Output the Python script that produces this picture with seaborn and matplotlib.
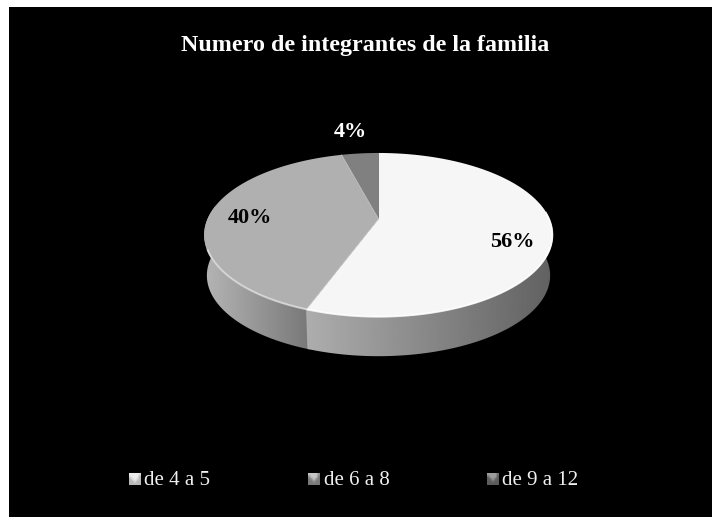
import numpy as np
import matplotlib
matplotlib.use("Agg")
import matplotlib.pyplot as plt
from matplotlib.patches import Polygon, Rectangle
import seaborn as sns

title = "Numero de integrantes de la familia"
categories = ["de 4 a 5", "de 6 a 8", "de 9 a 12"]
values = [56, 40, 4]

sns.set_theme(style="white")
plt.rcParams["font.family"] = ["Liberation Serif", "DejaVu Serif"]
top_colors = sns.color_palette(["#f6f6f6", "#b0b0b0", "#808080"])

fig = plt.figure(figsize=(7.12, 5.17), dpi=100, facecolor="white")
ax = fig.add_axes([0, 0, 1, 1])
ax.set_xlim(0, 712)
ax.set_ylim(517, 0)
ax.axis("off")
ax.add_patch(Rectangle((9, 7), 703, 510, fc="black", ec="none", zorder=0))

CX, CY, RX, RY, K = 378.5, 219.0, 171.0, 78.9, 0.195
DEPTH = 41.0


def project(theta, r=1.0, drop=0.0):
    """Tilted-disc perspective: theta runs clockwise from the far point."""
    theta = theta - 0.024 * np.sqrt(np.clip(np.sin(theta / 2), 0, 1))
    u, v = r * np.sin(theta), r * np.cos(theta)
    w = 1 + K * v
    return CX + RX * u / w, CY - RY * v / w + drop


def gradient(poly, c0, c1, z, x0, x1):
    patch = Polygon(poly, closed=True, fc="none", ec="none", zorder=z)
    ax.add_patch(patch)
    g = np.linspace(c0, c1, 256)[None, :]
    im = ax.imshow(g, cmap="gray", vmin=0, vmax=1, extent=[x0, x1, 400, 140],
                   aspect="auto", zorder=z, interpolation="bilinear")
    im.set_clip_path(patch)


edges = np.cumsum([0] + values) / sum(values) * 2 * np.pi

# side walls (front half only is visible); the left wall is drawn first and
# runs slightly under the front wall so no background shows at the seam
wall_shades = [(0.71, 0.47), (0.68, 0.38)]
wall_spans = [(edges[1] - 0.02, np.pi * 1.56), (np.pi * 0.44, edges[1])]
for (c0, c1), (a0, a1), z in zip(wall_shades, wall_spans, [2.0, 2.1]):
    t = np.linspace(a0, a1, 160)
    xt, yt = project(t)
    xb, yb = project(t, r=0.985, drop=DEPTH)
    poly = np.c_[np.r_[xt, xb[::-1]], np.r_[yt, yb[::-1]]]
    gradient(poly, c0, c1, z, xt.min(), xt.max())

# top faces
for i, col in enumerate(top_colors):
    t = np.linspace(edges[i], edges[i + 1], 200)
    x, y = project(t)
    ax.add_patch(Polygon(np.c_[np.r_[CX, x], np.r_[CY, y]], closed=True,
                         fc=col, ec="none", zorder=3))

# wedge separators and bevel highlight on the rim
for a in edges[1:3]:
    x, y = project(a)
    ax.plot([CX, x], [CY, y], color="#d8d8d8", lw=0.5, zorder=4)
for a0, a1, col in [(edges[0] + 1.5, edges[1], "#ffffff"), (edges[1], edges[1] + 0.85, "#dedede")]:
    x, y = project(np.linspace(a0, a1, 200), r=0.997)
    ax.plot(x, y, color=col, lw=1.4, alpha=0.85, zorder=5, solid_capstyle="butt")

# title and data labels
ax.text(365, 51, title, color="white", fontsize=17.3, fontweight="bold", ha="center", va="baseline")
lab_pos = [(512, 247), (250, 223), (350.5, 137)]
lab_cols = ["black", "black", "white"]
for v, (lx, ly), c in zip(values, lab_pos, lab_cols):
    ax.text(lx, ly, f"{v}%", color=c, fontsize=16, fontweight="bold", ha="center", va="baseline", zorder=6)

# legend
leg_x = [129, 308, 487]
leg_shades = [(0.93, 0.72), (0.78, 0.48), (0.62, 0.36)]
for name, lx, (hi, lo) in zip(categories, leg_x, leg_shades):
    g = np.array([[hi, hi, hi, hi, lo * 1.2], [lo * 1.2, hi, hi, hi, lo], [lo, lo * 1.2, hi, lo * 1.2, lo],
                  [lo, lo, lo * 1.2, lo, lo], [lo, lo, lo, lo, lo]])
    ax.imshow(np.clip(g, 0, 1), cmap="gray", vmin=0, vmax=1, extent=[lx, lx + 12, 485, 473],
              aspect="auto", zorder=3, interpolation="bilinear")
    ax.text(lx + 15.5, 485, name, color="#f0f0f0", fontsize=15, ha="left", va="baseline")

ax.set_xlim(0, 712)
ax.set_ylim(517, 0)
fig.savefig("out.png", dpi=100, facecolor="white")
